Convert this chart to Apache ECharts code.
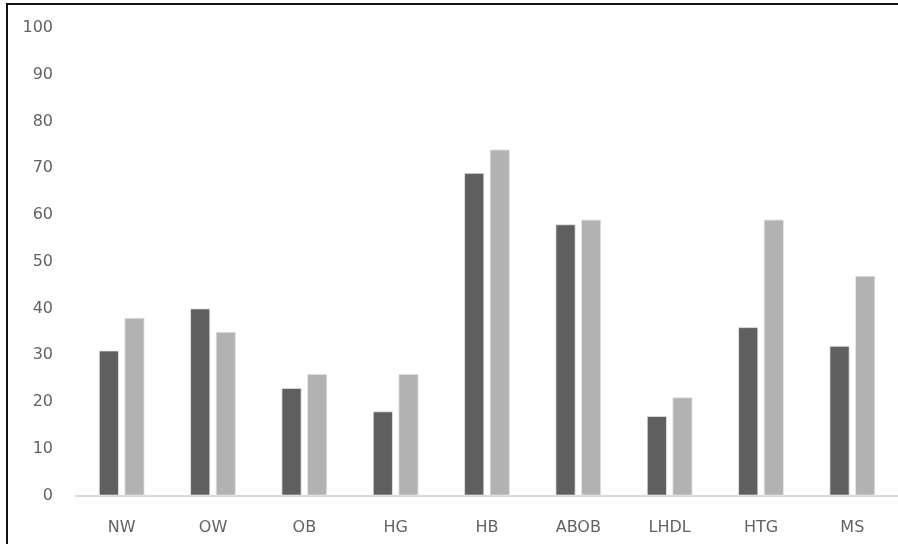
<!DOCTYPE html>
<html>
<head>
<meta charset="utf-8">
<script src="https://cdn.jsdelivr.net/npm/echarts@6/dist/echarts.min.js"></script>
<style>
html,body{margin:0;padding:0;background:#fff;}
#chart{position:absolute;left:0;top:0;width:898px;height:544px;}
#frame{position:absolute;left:6px;top:3px;width:900px;height:560px;border-top:2px solid #111;border-left:2px solid #111;box-sizing:border-box;pointer-events:none;}
</style>
</head>
<body>
<div id="chart"></div>
<div id="frame"></div>
<script>
const categories = ['NW','OW','OB','HG','HB','ABOB','LHDL','HTG','MS'];
const seriesA = [31,40,23,18,69,58,17,36,32];
const seriesB = [38,35,26,26,74,59,21,59,47];
const yTicks = {min:0, max:100, interval:10};

const chart = echarts.init(document.getElementById('chart'), null, {renderer:'canvas'});
const font = "'DejaVu Sans', sans-serif";
chart.setOption({
  animation:false,
  backgroundColor:'#fff',
  grid:{left:76, right:0, top:28, bottom:48.5},
  xAxis:{
    type:'category', data:categories,
    axisLine:{lineStyle:{color:'#d9d9d9', width:2}},
    axisTick:{show:false},
    axisLabel:{color:'#636363', fontSize:16, fontFamily:font, margin:24}
  },
  yAxis:{
    type:'value', min:yTicks.min, max:yTicks.max, interval:yTicks.interval,
    axisLine:{show:false}, axisTick:{show:false},
    splitLine:{show:false},
    axisLabel:{color:'#636363', fontSize:16, fontFamily:font, margin:23}
  },
  series:[
    {type:'bar', data:seriesA, barWidth:20, barGap:'28%',
     itemStyle:{color:'#5f5f5f', borderColor:'#e6e6e6', borderWidth:0.8}},
    {type:'bar', data:seriesB, barWidth:20, barGap:'28%',
     itemStyle:{color:'#b2b2b2', borderColor:'#e6e6e6', borderWidth:0.8}}
  ]
});
</script>
</body>
</html>
